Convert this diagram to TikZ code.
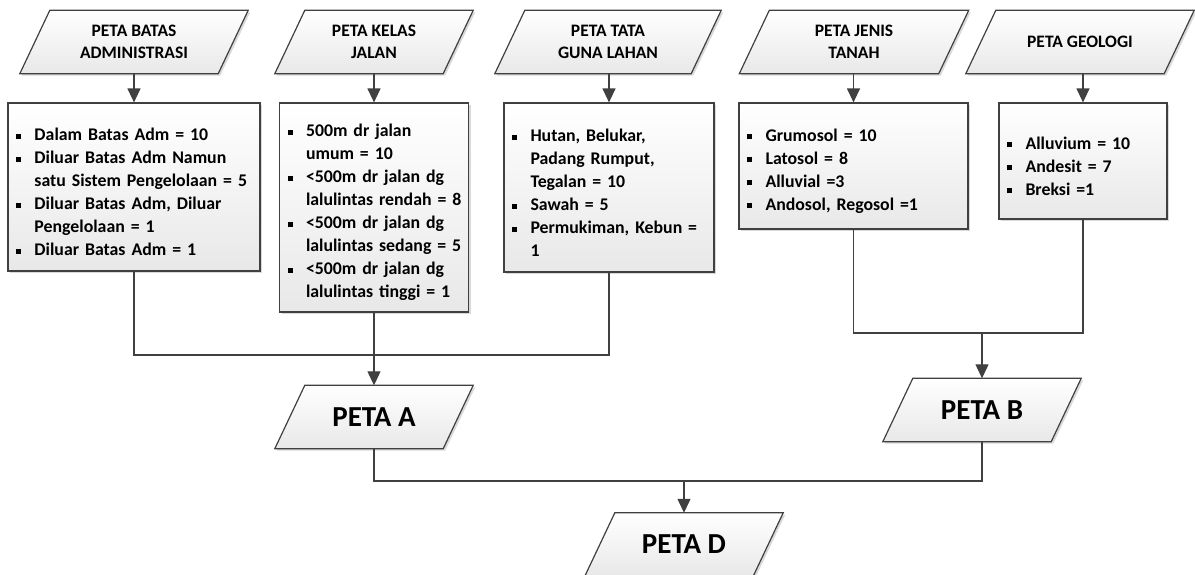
\documentclass[tikz,border=0pt]{standalone}
\usepackage{fontspec}
\setmainfont{Carlito}
\usetikzlibrary{arrows.meta,shadows,backgrounds}
\definecolor{ln}{HTML}{404040}
\newcommand\bi{\par\hangindent=22.5pt\hangafter=1\noindent\makebox[22.5pt][l]{\hspace*{4pt}\raisebox{2pt}{\rule{5pt}{5pt}}}}
\newcommand\paradraw[2]{\begin{pgfonlayer}{background}\path[shapefill] ([xshift=#2]#1.north west) -- ([xshift=#2]#1.north east) -- ([xshift=-#2]#1.south east) -- ([xshift=-#2]#1.south west) -- cycle;\end{pgfonlayer}}
\tikzset{
 shapefill/.style={draw=ln, line width=1.2pt, top color=white, bottom color=black!9,
   drop shadow={shadow xshift=2pt,shadow yshift=-2pt,opacity=0.15,fill=black}},
 box/.style={shapefill, rectangle, inner xsep=4pt, inner ysep=0pt, align=left,
   font=\fontsize{17.8}{23}\selectfont\bfseries},
 hdr/.style={inner sep=0pt, minimum height=63pt, align=center, font=\fontsize{17.5}{22}\selectfont\bfseries},
 big/.style={inner sep=0pt, minimum height=63pt, minimum width=168pt, font=\fontsize{29}{32}\selectfont\bfseries},
 conn/.style={draw=ln, line width=1.2pt},
 arr/.style={conn, -{Triangle[length=14pt,width=13pt]}},
}
\begin{document}
\begin{tikzpicture}[x=1pt,y=-1pt]
\useasboundingbox (0,0) rectangle (1195,574);
% headers
\node[hdr, minimum width=198pt] (h1) at (134,42) {PETA BATAS\\ADMINISTRASI};
\node[hdr, minimum width=168pt] (h2) at (374,42) {PETA KELAS\\JALAN};
\node[hdr, minimum width=196pt] (h3) at (608,42) {PETA TATA\\GUNA LAHAN};
\node[hdr, minimum width=199pt] (h4) at (854,42) {PETA JENIS\\TANAH};
\node[hdr, minimum width=198pt] (h5) at (1080,42) {PETA GEOLOGI};
\paradraw{h1}{15pt}\paradraw{h2}{15pt}\paradraw{h3}{15pt}\paradraw{h4}{15pt}\paradraw{h5}{15pt}
% boxes
\node[box, minimum width=252pt, minimum height=168pt, text width=244pt] (b1) at (134,187) {%
\bi Dalam Batas Adm = 10
\bi Diluar Batas Adm Namun\newline satu~Sistem~Pengelolaan~=~5
\bi Diluar Batas Adm, Diluar\newline Pengelolaan = 1
\bi Diluar Batas Adm = 1\par};
\node[box, minimum width=189pt, minimum height=209pt, text width=181pt] (b2) at (374,207.5) {%
\bi 500m dr jalan\newline umum = 10
\bi <500m~dr~jalan~dg\newline lalulintas~rendah~=~8
\bi <500m~dr~jalan~dg\newline lalulintas~sedang~=~5
\bi <500m~dr~jalan~dg\newline lalulintas~tinggi~=~1\par};
\node[box, minimum width=210pt, minimum height=169pt, text width=202pt] (b3) at (609,187.5) {%
\bi Hutan, Belukar,\newline Padang Rumput,\newline Tegalan = 10
\bi Sawah = 5
\bi Permukiman,~Kebun~=\newline 1\par};
\node[box, minimum width=229pt, minimum height=126pt, text width=221pt] (b4) at (853.5,166) {%
\bi Grumosol = 10
\bi Latosol = 8
\bi Alluvial =3
\bi Andosol, Regosol =1\par};
\node[box, minimum width=168pt, minimum height=116pt, text width=160pt] (b5) at (1083,161) {%
\bi Alluvium = 10
\bi Andesit = 7
\bi Breksi =1\par};
% result maps
\node[big] (pa) at (374,417) {PETA A};
\node[big] (pb) at (982,410) {PETA B};
\node[big] (pd) at (684,544.5) {PETA D};
\paradraw{pa}{15pt}\paradraw{pb}{15pt}\paradraw{pd}{15pt}
% arrows from headers to boxes
\foreach \i in {1,...,5}{\draw[arr] (b\i.north |- h\i.south) -- (b\i.north);}
% joins
\coordinate (jA) at (374,355);
\coordinate (jB) at (982,333);
\coordinate (jD) at (684,481);
\draw[conn] (b1.south) |- (jA);
\draw[conn] (b3.south) |- (jA);
\draw[arr] (b2.south) -- (pa.north);
\draw[conn] (b4.south) |- (jB);
\draw[conn] (b5.south) |- (jB);
\draw[arr] (jB) -- (pb.north);
\draw[conn] (pa.south) |- (jD);
\draw[conn] (pb.south) |- (jD);
\draw[arr] (jD) -- (pd.north);
\end{tikzpicture}
\end{document}
